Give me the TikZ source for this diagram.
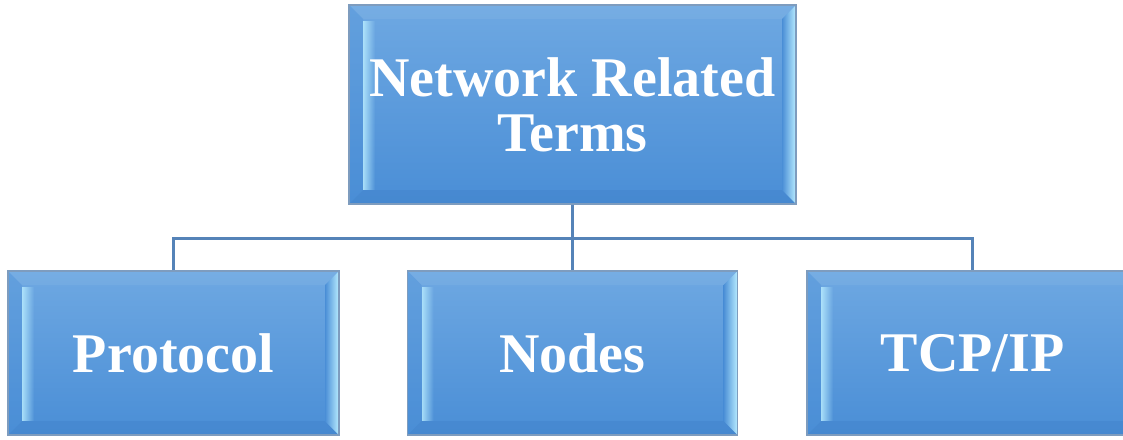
\documentclass[tikz,border=0pt]{standalone}
\usepackage{fontspec}
\setmainfont{Liberation Serif}
\usetikzlibrary{calc,fadings}
\definecolor{boxtop}{HTML}{6EA8E2}
\definecolor{boxbot}{HTML}{4A8ED6}
\definecolor{boxedge}{HTML}{7E9CBE}
\definecolor{bevhi}{HTML}{B8ECFF}
\definecolor{bevdark}{HTML}{3C7CC4}
\definecolor{linkblue}{HTML}{5583B8}
\begin{document}
\begin{tikzpicture}[x=1pt,y=-1pt]
  \tikzset{term box/.style={draw=boxedge,line width=1.2pt,top color=boxtop,bottom color=boxbot,
      minimum width=#1,inner sep=0pt,text=white,align=center,
      font=\fontsize{56}{55}\selectfont\bfseries,
      path picture={
        \coordinate (nw) at (path picture bounding box.north west);
        \coordinate (ne) at (path picture bounding box.north east);
        \coordinate (sw) at (path picture bounding box.south west);
        \coordinate (se) at (path picture bounding box.south east);
        \fill[white,opacity=.06] (nw) -- (ne) -- ($(ne)+(-14,14)$) -- ($(nw)+(14,14)$) -- cycle;
        \fill[bevdark,opacity=.3] (sw) -- (se) -- ($(se)+(-14,-14)$) -- ($(sw)+(14,-14)$) -- cycle;
        \fill[boxbot,opacity=.3] (nw) -- ($(nw)+(14,14)$) -- ($(sw)+(14,-14)$) -- (sw) -- cycle;
        \fill[bevhi,path fading=east,opacity=.85] ($(nw)+(14,16)$) rectangle ($(sw)+(26,-14)$);
        \shade[left color=boxbot,right color=bevhi] (ne) -- ($(ne)+(-14,14)$) -- ($(se)+(-14,-14)$) -- (se) -- cycle;
      }},
    link/.style={draw=linkblue,line width=3pt}}

  \useasboundingbox (0,0) rectangle (1123,439);
  \clip (0,0) rectangle (1123,439);

  \node[term box=447,minimum height=199] (terms) at (572.5,104.5) {Network Related\\Terms};
  \node[term box=331,minimum height=164] (protocol) at (173.5,353) {Protocol};
  \node[term box=330,minimum height=164] (nodes) at (572.5,353) {Nodes};
  \node[term box=331,minimum height=164] (tcpip) at (972.5,353) {TCP/IP};

  \coordinate (bus) at (572.5,238);
  \draw[link] (terms) -- (bus);
  \draw[link] (protocol.north) |- (bus) -| (tcpip.north);
  \draw[link] (bus) -- (nodes.north);
\end{tikzpicture}
\end{document}
